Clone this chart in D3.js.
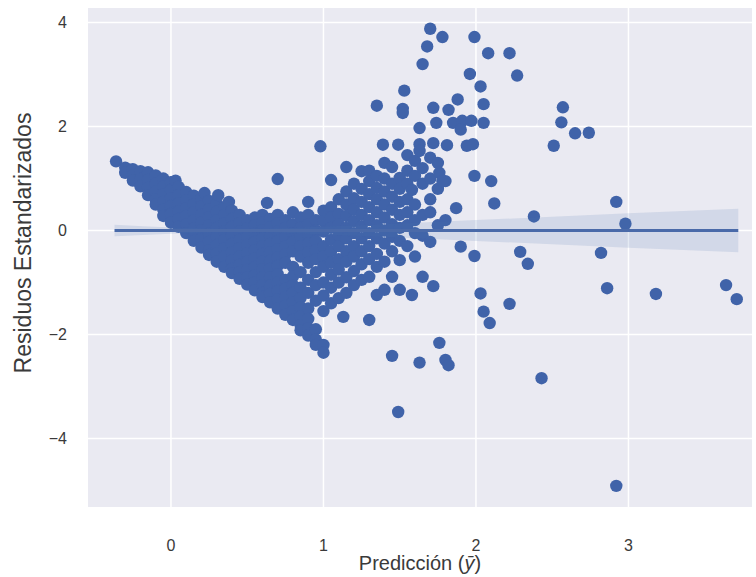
<!DOCTYPE html>
<html>
<head>
<meta charset="utf-8">
<script src="https://cdn.jsdelivr.net/npm/d3@7"></script>
<style>
  body { margin: 0; background: #ffffff; }
  svg { display: block; }
</style>
</head>
<body>
<svg id="chart" width="756" height="577"></svg>
<script>
// Axis ticks and ranges
const ticksX = [0, 1, 2, 3];
const ticksY = [-4, -2, 0, 2, 4];
const dominioX = [-0.544, 3.81];
const dominioY = [-5.317, 4.279];

// Standardized residuals vs. prediction: [prediction, residual]
// Dense wedge of low predictions
const puntosCuna = [
  [-0.36, 1.33],
  [-0.30, 1.21], [-0.30, 1.11],
  [-0.25, 1.18], [-0.25, 1.06], [-0.25, 0.96],
  [-0.20, 1.14], [-0.20, 0.99], [-0.20, 0.85],
  [-0.15, 1.12], [-0.15, 0.97], [-0.15, 0.82], [-0.15, 0.68],
  [-0.10, 1.06], [-0.10, 0.90], [-0.10, 0.75], [-0.10, 0.60], [-0.10, 0.50],
  [-0.05, 1.00], [-0.05, 0.85], [-0.05, 0.70], [-0.05, 0.55], [-0.05, 0.40], [-0.05, 0.28],
  [0.00, 0.93], [0.00, 0.78], [0.00, 0.62], [0.00, 0.47], [0.00, 0.32], [0.00, 0.15],
  [0.03, 0.96],
  [0.05, 0.84], [0.05, 0.68], [0.05, 0.52], [0.05, 0.37], [0.05, 0.22], [0.05, 0.07],
  [0.10, 0.74], [0.10, 0.58], [0.10, 0.43], [0.10, 0.28], [0.10, 0.12], [0.10, -0.05],
  [0.15, 0.67], [0.15, 0.50], [0.15, 0.35], [0.15, 0.20], [0.15, 0.04], [0.15, -0.10], [0.15, -0.20],
  [0.20, 0.62], [0.20, 0.46], [0.20, 0.30], [0.20, 0.15], [0.20, 0.00], [0.20, -0.16], [0.20, -0.33],
  [0.22, 0.72],
  [0.25, 0.57], [0.25, 0.41], [0.25, 0.25], [0.25, 0.10], [0.25, -0.06], [0.25, -0.22], [0.25, -0.38], [0.25, -0.47],
  [0.30, 0.52], [0.30, 0.36], [0.30, 0.20], [0.30, 0.05], [0.30, -0.12], [0.30, -0.28], [0.30, -0.44], [0.30, -0.60],
  [0.31, 0.68],
  [0.35, 0.45], [0.35, 0.30], [0.35, 0.14], [0.35, -0.02], [0.35, -0.18], [0.35, -0.34], [0.35, -0.50], [0.35, -0.70],
  [0.38, 0.55],
  [0.40, 0.38], [0.40, 0.22], [0.40, 0.07], [0.40, -0.10], [0.40, -0.26], [0.40, -0.42], [0.40, -0.58], [0.40, -0.74], [0.40, -0.82],
  [0.45, 0.30], [0.45, 0.14], [0.45, -0.02], [0.45, -0.18], [0.45, -0.34], [0.45, -0.50], [0.45, -0.66], [0.45, -0.80], [0.45, -0.93],
  [0.50, 0.20], [0.50, 0.04], [0.50, -0.12], [0.50, -0.28], [0.50, -0.44], [0.50, -0.60], [0.50, -0.76], [0.50, -0.90], [0.50, -1.04],
  [0.55, 0.25], [0.55, 0.10], [0.55, -0.06], [0.55, -0.22], [0.55, -0.38], [0.55, -0.54], [0.55, -0.70], [0.55, -0.86], [0.55, -1.00], [0.55, -1.15]
];

// Main cloud of mid-range predictions
const puntosNube = [
  [0.60, 0.30], [0.60, 0.15], [0.60, 0.00], [0.60, -0.15], [0.60, -0.30], [0.60, -0.45], [0.60, -0.60], [0.60, -0.75], [0.60, -0.90], [0.60, -1.05], [0.60, -1.20], [0.60, -1.28],
  [0.63, 0.53],
  [0.65, 0.22], [0.65, 0.06], [0.65, -0.10], [0.65, -0.26], [0.65, -0.42], [0.65, -0.58], [0.65, -0.74], [0.65, -0.90], [0.65, -1.06], [0.65, -1.22], [0.65, -1.38],
  [0.70, 0.99], [0.70, 0.30], [0.70, 0.14], [0.70, -0.02], [0.70, -0.20], [0.70, -0.36], [0.70, -0.52], [0.70, -0.68], [0.70, -0.84], [0.70, -1.00], [0.70, -1.16], [0.70, -1.32], [0.70, -1.50],
  [0.75, 0.20], [0.75, 0.05], [0.75, -0.12], [0.75, -0.30], [0.75, -0.46], [0.75, -0.62], [0.75, -0.95], [0.75, -1.12], [0.75, -1.28], [0.75, -1.45], [0.75, -1.62],
  [0.80, 0.35], [0.80, 0.12], [0.80, -0.05], [0.80, -0.22], [0.80, -0.40], [0.80, -0.70], [0.80, -0.88], [0.80, -1.05], [0.80, -1.20], [0.80, -1.38], [0.80, -1.55], [0.80, -1.72],
  [0.85, 0.25], [0.85, 0.05], [0.85, -0.12], [0.85, -0.30], [0.85, -0.50], [0.85, -0.80], [0.85, -1.10], [0.85, -1.30], [0.85, -1.48], [0.85, -1.65], [0.85, -1.82], [0.85, -1.92],
  [0.90, 0.55], [0.90, 0.30], [0.90, 0.12], [0.90, -0.08], [0.90, -0.25], [0.90, -0.42], [0.90, -0.62], [0.90, -0.95], [0.90, -1.20], [0.90, -1.50], [0.90, -1.70], [0.90, -1.88], [0.90, -2.02],
  [0.95, 0.20], [0.95, 0.00], [0.95, -0.20], [0.95, -0.38], [0.95, -0.55], [0.95, -0.80], [0.95, -1.05], [0.95, -1.35], [0.95, -1.90], [0.95, -2.10], [0.95, -2.20],
  [0.98, 1.62], [1.00, 0.38], [1.00, 0.18], [1.00, -0.02], [1.00, -0.30], [1.00, -0.50], [1.00, -0.70], [1.00, -1.00], [1.00, -1.25], [1.00, -1.55], [1.00, -2.20], [1.00, -2.35],
  [1.05, 0.97], [1.05, 0.45], [1.05, 0.25], [1.05, 0.05], [1.05, -0.18], [1.05, -0.40], [1.05, -0.62], [1.05, -0.85], [1.05, -1.10], [1.05, -1.40],
  [1.10, 0.60], [1.10, 0.32], [1.10, 0.12], [1.10, -0.10], [1.10, -0.30], [1.10, -0.55], [1.10, -0.75], [1.10, -1.00], [1.10, -1.30],
  [1.13, -1.66],
  [1.15, 1.22], [1.15, 0.75], [1.15, 0.50], [1.15, 0.28], [1.15, 0.05], [1.15, -0.15], [1.15, -0.40], [1.15, -0.60], [1.15, -0.90], [1.15, -1.20],
  [1.20, 0.90], [1.20, 0.62], [1.20, 0.40], [1.20, 0.18], [1.20, -0.05], [1.20, -0.30], [1.20, -0.50], [1.20, -0.78], [1.20, -1.05],
  [1.25, 1.14], [1.25, 0.80], [1.25, 0.55], [1.25, 0.30], [1.25, 0.08], [1.25, -0.15], [1.25, -0.40], [1.25, -0.65], [1.25, -0.95],
  [1.30, 1.15], [1.30, 0.95], [1.30, 0.70], [1.30, 0.45], [1.30, 0.20], [1.30, -0.05], [1.30, -0.30], [1.30, -0.55], [1.30, -0.89], [1.30, -1.72],
  [1.35, 1.05], [1.35, 0.82], [1.35, 0.60], [1.35, 0.35], [1.35, 0.10], [1.35, -0.15], [1.35, -0.45], [1.35, -0.70], [1.35, -1.24],
  [1.40, 1.30], [1.40, 1.00], [1.40, 0.75], [1.40, 0.50], [1.40, 0.25], [1.40, 0.00], [1.40, -0.25], [1.40, -0.60], [1.40, -1.14],
  [1.45, 1.22], [1.45, 0.90], [1.45, 0.65], [1.45, 0.40], [1.45, 0.12], [1.45, -0.12], [1.45, -0.40], [1.45, -0.89],
  [1.50, 1.01], [1.50, 0.80], [1.50, 0.55], [1.50, 0.30], [1.50, 0.05], [1.50, -0.20], [1.50, -0.57], [1.50, -1.14],
  [1.55, 1.45], [1.55, 1.15], [1.55, 0.90], [1.55, 0.60], [1.55, 0.35], [1.55, 0.10], [1.55, -0.30],
  [1.58, 0.78], [1.58, -1.24],
  [1.60, 1.34], [1.60, 1.05], [1.60, 0.50], [1.60, 0.20], [1.60, -0.05], [1.60, -0.50],
  [1.65, 1.20], [1.65, 0.90], [1.65, 0.30], [1.65, -0.10], [1.65, -0.89],
  [1.70, 1.40], [1.70, 1.00], [1.70, 0.60], [1.70, 0.35], [1.70, -0.22],
  [1.75, 1.30], [1.75, 0.80], [1.75, 0.10],
  [1.80, 0.95], [1.80, 0.20]
];

// Scattered high-prediction points
const puntosDispersos = [
  [1.70, 3.88], [1.78, 3.72], [1.68, 3.54], [1.65, 3.20], [1.99, 3.72], [2.08, 3.41], [2.22, 3.41],
  [2.27, 2.98], [1.96, 3.01], [2.03, 2.77], [2.05, 2.43], [1.53, 2.69], [1.35, 2.40], [1.52, 2.34],
  [1.52, 2.26], [1.72, 2.36], [1.82, 2.32], [1.88, 2.52], [1.74, 2.07], [1.85, 2.07], [1.91, 2.11],
  [1.90, 1.94], [2.05, 2.07], [1.97, 2.11], [1.63, 1.97], [1.39, 1.65], [1.49, 1.65], [1.63, 1.66],
  [1.72, 1.68], [1.81, 1.64], [1.94, 1.63], [1.98, 1.66], [1.63, 1.53], [1.76, 1.11], [1.78, 0.95],
  [1.99, 1.05], [2.10, 0.95], [2.12, 0.52], [1.87, 0.43], [1.90, -0.31], [1.99, -0.49], [2.38, 0.27],
  [2.29, -0.41], [2.34, -0.64], [2.03, -1.21], [2.05, -1.56], [2.09, -1.78], [2.22, -1.41],
  [1.76, -2.16], [1.80, -2.49], [1.82, -2.59], [1.63, -2.54], [1.45, -2.41], [1.49, -3.49], [1.72, -1.07],
  [2.57, 2.37], [2.56, 2.08], [2.65, 1.87], [2.74, 1.88], [2.51, 1.63], [2.92, 0.55], [2.98, 0.13],
  [2.82, -0.43], [2.86, -1.11], [3.18, -1.22], [2.43, -2.84], [2.92, -4.91], [3.64, -1.05], [3.71, -1.32]
];

// Fitted line and its confidence band half-width
const ajusteX = [-0.37, 3.72];
const ajusteY = [0, 0];
const bandaX = [-0.37, 0, 0.5, 1, 1.5, 2, 2.5, 3, 3.72];
const bandaMitad = [0.11, 0.06, 0.03, 0.075, 0.135, 0.2, 0.265, 0.33, 0.42];

const svg = d3.select("#chart");
const margen = { left: 88, top: 8, right: 752, bottom: 507 };

const x = d3.scaleLinear().domain(dominioX).range([margen.left, margen.right]);
const y = d3.scaleLinear().domain(dominioY).range([margen.bottom, margen.top]);

const fuente = "'Liberation Sans', Arial, Helvetica, sans-serif";

// Plot background
svg.append("rect")
  .attr("x", margen.left).attr("y", margen.top)
  .attr("width", margen.right - margen.left)
  .attr("height", margen.bottom - margen.top)
  .attr("fill", "#eaeaf2");

// Grid
const rejilla = svg.append("g");
rejilla.selectAll("line.gx").data(ticksX).join("line")
  .attr("x1", d => x(d)).attr("x2", d => x(d))
  .attr("y1", margen.top).attr("y2", margen.bottom)
  .attr("stroke", "#ffffff").attr("stroke-width", 1.5);
rejilla.selectAll("line.gy").data(ticksY).join("line")
  .attr("x1", margen.left).attr("x2", margen.right)
  .attr("y1", d => y(d)).attr("y2", d => y(d))
  .attr("stroke", "#ffffff").attr("stroke-width", 1.5);

// Points
const todos = puntosCuna.concat(puntosNube, puntosDispersos);
svg.append("g").selectAll("circle").data(todos).join("circle")
  .attr("cx", d => x(d[0]))
  .attr("cy", d => y(d[1]))
  .attr("r", 6.2)
  .attr("fill", "#4063a9");

// Confidence band
const banda = bandaX.map((v, i) => ({ x: v, h: bandaMitad[i] }));
const fondoY = d3.scaleLinear().domain(ajusteX).range(ajusteY);
svg.append("path")
  .datum(banda)
  .attr("d", d3.area()
    .x(d => x(d.x))
    .y0(d => y(fondoY(d.x) - d.h))
    .y1(d => y(fondoY(d.x) + d.h))
    .curve(d3.curveMonotoneX))
  .attr("fill", "#4c72b0")
  .attr("fill-opacity", 0.15);

// Fitted line
svg.append("line")
  .attr("x1", x(ajusteX[0])).attr("x2", x(ajusteX[1]))
  .attr("y1", y(ajusteY[0])).attr("y2", y(ajusteY[1]))
  .attr("stroke", "#4a6aa9").attr("stroke-width", 3);

// Tick labels
const fmt = d => d < 0 ? "\u2212" + Math.abs(d) : String(d);
svg.append("g").selectAll("text").data(ticksX).join("text")
  .attr("x", d => x(d)).attr("y", 545)
  .attr("text-anchor", "middle").attr("dominant-baseline", "central")
  .attr("font-family", fuente).attr("font-size", 16).attr("fill", "#3a3a3a")
  .text(fmt);
svg.append("g").selectAll("text").data(ticksY).join("text")
  .attr("x", 67).attr("y", d => y(d))
  .attr("text-anchor", "end").attr("dominant-baseline", "central")
  .attr("font-family", fuente).attr("font-size", 16).attr("fill", "#3a3a3a")
  .text(fmt);

// Axis titles
const tx = svg.append("text")
  .attr("x", (margen.left + margen.right) / 2).attr("y", 570)
  .attr("text-anchor", "middle")
  .attr("font-family", fuente).attr("font-size", 20).attr("fill", "#3a3a3a");
tx.append("tspan").text("Predicción (");
tx.append("tspan").attr("font-style", "italic").text("ȳ");
tx.append("tspan").text(")");

svg.append("text")
  .attr("transform", "translate(23,243) rotate(-90)")
  .attr("text-anchor", "middle").attr("dominant-baseline", "central")
  .attr("font-family", fuente).attr("font-size", 23).attr("fill", "#3a3a3a")
  .text("Residuos Estandarizados");
</script>
</body>
</html>
